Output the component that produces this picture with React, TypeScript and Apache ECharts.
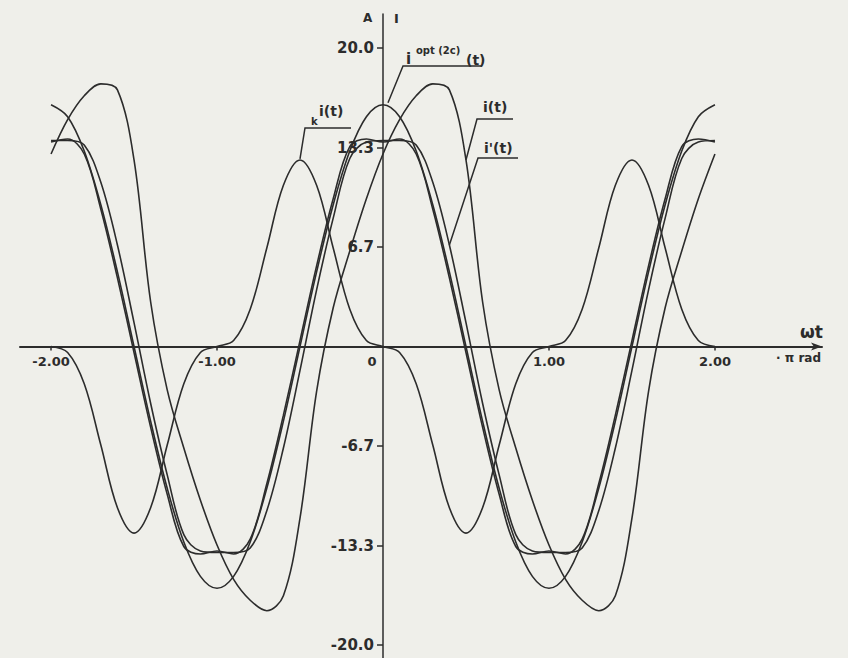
import { useEffect, useRef } from "react";
import * as echarts from "echarts";

// Phase axis ωt in units of π rad, sampled every 0.1
const PHASE = [
  -2.0, -1.9, -1.8, -1.7, -1.6, -1.5, -1.4, -1.3, -1.2, -1.1,
  -1.0, -0.9, -0.8, -0.7, -0.6, -0.5, -0.4, -0.3, -0.2, -0.1,
  0.0, 0.1, 0.2, 0.3, 0.4, 0.5, 0.6, 0.7, 0.8, 0.9,
  1.0, 1.1, 1.2, 1.3, 1.4, 1.5, 1.6, 1.7, 1.8, 1.9, 2.0,
];

// i^opt(2c)(t), A
const I_OPT = [
  16.2, 15.4, 13.1, 9.5, 5.0, 0.0, -5.0, -9.5, -13.1, -15.4,
  -16.2, -15.4, -13.1, -9.5, -5.0, 0.0, 5.0, 9.5, 13.1, 15.4,
  16.2, 15.4, 13.1, 9.5, 5.0, 0.0, -5.0, -9.5, -13.1, -15.4,
  -16.2, -15.4, -13.1, -9.5, -5.0, 0.0, 5.0, 9.5, 13.1, 15.4, 16.2,
];

// k i(t), A
const K_I = [
  0.0, -0.4, -2.5, -6.6, -10.8, -12.5, -10.8, -6.6, -2.5, -0.4,
  0.0, 0.4, 2.5, 6.6, 10.8, 12.5, 10.8, 6.6, 2.5, 0.4,
  0.0, -0.4, -2.5, -6.6, -10.8, -12.5, -10.8, -6.6, -2.5, -0.4,
  0.0, 0.4, 2.5, 6.6, 10.8, 12.5, 10.8, 6.6, 2.5, 0.4, 0.0,
];

// i(t), A
const I_LOAD = [
  12.9, 15.2, 16.8, 17.6, 17.2, 12.5, 3.0, -2.9, -6.8, -10.3,
  -13.3, -15.6, -17.0, -17.7, -16.7, -11.5, -3.0, 2.6, 6.4, 9.9,
  12.9, 15.2, 16.8, 17.6, 17.2, 12.5, 3.0, -2.9, -6.8, -10.3,
  -13.3, -15.6, -17.0, -17.7, -16.7, -11.5, -3.0, 2.6, 6.4, 9.9, 12.9,
];

// i'(t), A
const I_PRIME = [
  13.8, 13.8, 13.5, 11.0, 6.8, 1.6, -3.8, -8.6, -12.6, -13.7,
  -13.8, -13.8, -13.5, -11.0, -6.8, -1.6, 3.8, 8.6, 12.6, 13.7,
  13.8, 13.8, 13.5, 11.0, 6.8, 1.6, -3.8, -8.6, -12.6, -13.7,
  -13.8, -13.8, -13.5, -11.0, -6.8, -1.6, 3.8, 8.6, 12.6, 13.7, 13.8,
];

// second flat-topped current, A
const I_FLAT = [
  13.7, 13.9, 12.9, 9.2, 4.6, -0.4, -5.4, -9.9, -13.4, -13.9,
  -13.7, -13.9, -12.9, -9.2, -4.6, 0.4, 5.4, 9.9, 13.4, 13.9,
  13.7, 13.9, 12.9, 9.2, 4.6, -0.4, -5.4, -9.9, -13.4, -13.9,
  -13.7, -13.9, -12.9, -9.2, -4.6, 0.4, 5.4, 9.9, 13.4, 13.9, 13.7,
];

const X_TICKS = [-2, -1, 1, 2];
const X_LABELS = [-2, -1, 0, 1, 2];
const Y_TICKS = [20, 40 / 3, 20 / 3, -20 / 3, -40 / 3, -20];

const INK = "#2c2c2c";
const FONT = '"DejaVu Sans", sans-serif';

const X_MIN = -2.187;
const X_MAX = 2.645;
const Y_MIN = -20.87;
const Y_MAX = 22.28;
const GRID = { left: 20, right: 26, top: 14, bottom: 0 };
const W = 848;
const H = 658;

export default function App() {
  const ref = useRef<HTMLDivElement>(null);

  useEffect(() => {
    const chart = echarts.init(ref.current!, null, { renderer: "svg" });
    const curves = [I_OPT, K_I, I_LOAD, I_PRIME, I_FLAT];
    const names = ["i_opt", "k_i", "i", "i_prime", "i_flat"];

    // move the axes so that they cross at the origin, labels included
    const plotW = W - GRID.left - GRID.right;
    const plotH = H - GRID.top - GRID.bottom;
    const zeroX = (-X_MIN / (X_MAX - X_MIN)) * plotW;
    const zeroY = (-Y_MIN / (Y_MAX - Y_MIN)) * plotH;

    chart.setOption({
      animation: false,
      backgroundColor: "#efefea",
      grid: { ...GRID, outerBoundsMode: "none", containLabel: false },
      xAxis: {
        type: "value",
        min: X_MIN,
        max: X_MAX,
        position: "bottom",
        offset: -zeroY,
        splitLine: { show: false },
        axisLine: {
          onZero: false,
          symbol: ["none", "arrow"],
          symbolSize: [6, 11],
          lineStyle: { color: INK, width: 2 },
        },
        axisTick: {
          show: true,
          customValues: X_TICKS,
          length: 4,
          lineStyle: { color: INK, width: 1.5 },
        },
        axisLabel: {
          customValues: X_LABELS,
          margin: 8,
          color: INK,
          fontSize: 13,
          fontWeight: "bold",
          fontFamily: FONT,
          formatter: (v: number) => (v === 0 ? "{z|0}" : v.toFixed(2)),
          rich: {
            z: {
              color: INK,
              fontSize: 13,
              fontWeight: "bold",
              fontFamily: FONT,
              padding: [0, 22, 0, 0],
            },
          },
        },
      },
      yAxis: {
        type: "value",
        min: Y_MIN,
        max: Y_MAX,
        position: "left",
        offset: -zeroX,
        splitLine: { show: false },
        axisLine: { onZero: false, lineStyle: { color: INK, width: 1.5 } },
        axisTick: {
          show: true,
          customValues: Y_TICKS,
          length: 6,
          lineStyle: { color: INK, width: 1.5 },
        },
        axisLabel: {
          customValues: Y_TICKS,
          margin: 9,
          color: INK,
          fontSize: 15,
          fontWeight: "bold",
          fontFamily: FONT,
          formatter: (v: number) => v.toFixed(1),
        },
      },
      series: curves.map((ys, si) => ({
        type: "line",
        name: names[si],
        data: PHASE.map((x, i) => [x, ys[i]]),
        smooth: 0.35,
        showSymbol: false,
        silent: true,
        lineStyle: { color: INK, width: 1.6 },
      })),
    });

    const at = (si: number, idx: number) =>
      chart.convertToPixel({ seriesIndex: si }, [PHASE[idx], curves[si][idx]]) as number[];

    const txt = (text: string, x: number, y: number, size: number) => ({
      type: "text",
      x,
      y,
      silent: true,
      style: {
        text,
        fill: INK,
        font: `bold ${size}px ${FONT}`,
        align: "left",
        verticalAlign: "middle",
        textAlign: "left",
        textVerticalAlign: "middle",
      },
    });
    const leader = (points: number[][]) => ({
      type: "polyline",
      silent: true,
      shape: { points },
      style: { stroke: INK, lineWidth: 1.5, fill: null },
    });

    const pOpt = at(0, 20);
    const pK = at(1, 15);
    const pI = at(2, 25);
    const pPrime = at(3, 24);

    chart.setOption({
      graphic: [
        txt("A", 363, 18, 12),
        txt("I", 394, 18, 13),
        txt("ωt", 800, 332, 17),
        txt("· π rad", 776, 358, 12),
        // i^opt(2c)(t)
        txt("i", 406, 59, 15),
        txt("opt (2c)", 416, 50, 10),
        txt("(t)", 466, 60, 14),
        leader([[482, 66], [403, 66], [pOpt[0] + 5, pOpt[1] - 2]]),
        // k i(t)
        txt("k", 311, 121, 10),
        txt("i(t)", 319, 111, 14),
        leader([[351, 128], [305, 128], [pK[0], pK[1] - 1]]),
        // i(t)
        txt("i(t)", 483, 107, 14),
        leader([[513, 119], [477, 119], pI]),
        // i'(t)
        txt("i'(t)", 484, 148, 14),
        leader([[518, 158], [478, 158], pPrime]),
      ],
    });

    return () => chart.dispose();
  }, []);

  return (
    <div
      ref={ref}
      style={{ position: "fixed", left: 0, top: 0, width: W, height: H }}
    />
  );
}
